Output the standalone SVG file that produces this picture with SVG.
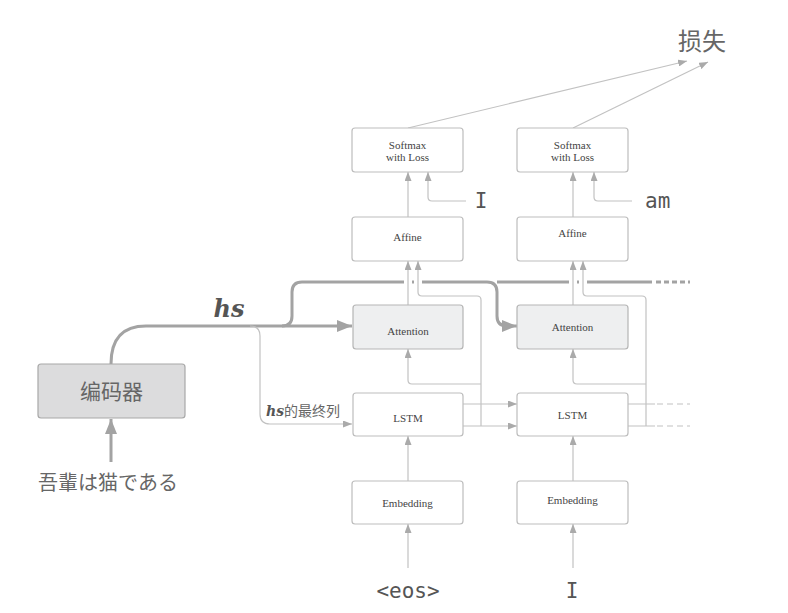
<svg xmlns="http://www.w3.org/2000/svg" width="788" height="613" viewBox="0 0 788 613">
<style>
.box{fill:#ffffff;stroke:#bdbdbd;stroke-width:1.2}
.att{fill:#eeeff0;stroke:#b5b5b5;stroke-width:1.2}
.enc{fill:#dcdcdd;stroke:#a8a8a8;stroke-width:1.2}
.lbl{font-family:"Liberation Serif","DejaVu Serif",serif;font-size:11px;fill:#444;text-anchor:middle}
.mono{font-family:"DejaVu Sans Mono","Liberation Mono",monospace;font-size:21px;fill:#555}
.cjk{font-family:"Noto Sans CJK SC","Noto Sans CJK JP",sans-serif;fill:#666}
.thin{fill:none;stroke:#c2c2c2;stroke-width:1.2}
.thick{fill:none;stroke:#a3a3a3;stroke-width:3}
.math{font-family:"DejaVu Serif","Liberation Serif",serif;font-style:italic;font-weight:bold;fill:#555}
</style>
<defs>
<marker id="aS" viewBox="0 0 9 7" refX="9" refY="3.5" markerWidth="9" markerHeight="7" markerUnits="userSpaceOnUse" orient="auto"><path d="M0,0 L9,3.5 L0,7 z" fill="#aaaaaa"/></marker>
<marker id="aL" viewBox="0 0 15 12" refX="15" refY="6" markerWidth="15" markerHeight="12" markerUnits="userSpaceOnUse" orient="auto"><path d="M0,0 L15,6 L0,12 z" fill="#a3a3a3"/></marker>
</defs>
<rect width="788" height="613" fill="#ffffff"/>

<g id="connectors">
  <path class="thick" d="M111,462 V419" marker-end="url(#aL)"/>
  <path class="thick" d="M111,364 C111,342 120,326 146,326 H352" marker-end="url(#aL)"/>
  <path class="thick" d="M282,326 Q292,326 292,316 V292 Q292,282 302,282 H404 M412,282 H414 M422,282 H487 Q497,282 497,292 V316 Q497,326 507,326 H517" marker-end="url(#aL)"/>
  <path class="thick" d="M497,282 H569 M577,282 H579 M587,282 H652"/>
  <path class="thick" d="M656,282 H690" stroke-dasharray="5,3"/>
  <path class="thin" d="M250,326 Q260,326 260,336 V414 Q260,424 270,424 H352" marker-end="url(#aS)"/>
  <path class="thin" d="M408,568 V524" marker-end="url(#aS)"/>
  <path class="thin" d="M408,481 V436" marker-end="url(#aS)"/>
  <path class="thin" d="M463,404 H517" marker-end="url(#aS)"/>
  <path class="thin" d="M463,426 H517" marker-end="url(#aS)"/>
  <path class="thin" d="M481,426 V300 Q481,296 477,296 H422 Q418,296 418,292 V261" marker-end="url(#aS)"/>
  <path class="thin" d="M481,384 H412 Q408,384 408,380 V349" marker-end="url(#aS)"/>
  <path class="thin" d="M408,305 V261" marker-end="url(#aS)"/>
  <path class="thin" d="M408,217 V172" marker-end="url(#aS)"/>
  <path class="thin" d="M466,201 H432 Q428,201 428,197 V172" marker-end="url(#aS)"/>
  <path class="thin" d="M408,128 L687,61" marker-end="url(#aS)"/>
  <path class="thin" d="M573,568 V524" marker-end="url(#aS)"/>
  <path class="thin" d="M573,481 V436" marker-end="url(#aS)"/>
  <path class="thin" d="M628,404 H655 M628,426 H655"/>
  <path class="thin" d="M657,404 H690 M657,426 H690" stroke-dasharray="6,4"/>
  <path class="thin" d="M646,426 V300 Q646,296 642,296 H587 Q583,296 583,292 V261" marker-end="url(#aS)"/>
  <path class="thin" d="M646,384 H577 Q573,384 573,380 V349" marker-end="url(#aS)"/>
  <path class="thin" d="M573,305 V261" marker-end="url(#aS)"/>
  <path class="thin" d="M573,217 V172" marker-end="url(#aS)"/>
  <path class="thin" d="M632,201 H598 Q594,201 594,197 V172" marker-end="url(#aS)"/>
  <path class="thin" d="M573,128 L708,62" marker-end="url(#aS)"/>
</g>

<g id="encoder">
  <rect class="enc" x="38" y="364" width="147" height="54" rx="3"/>
  <text class="cjk" x="111.5" y="399" font-size="21" text-anchor="middle">编码器</text>
</g>
<g id="input-jp"><text class="cjk" x="108" y="490" font-size="20" text-anchor="middle">吾輩は猫である</text></g>
<g id="loss"><text class="cjk" x="702" y="50" font-size="24" text-anchor="middle">损失</text></g>
<g id="hs-label"><text class="math" x="229" y="317" font-size="24" text-anchor="middle">hs</text></g>
<g id="hs-last-label"><text x="266" y="416"><tspan class="math" font-size="14">hs</tspan><tspan class="cjk" font-size="14" fill="#555">的最终列</tspan></text></g>

<g id="softmax1"><rect class="box" x="352" y="128" width="111" height="44" rx="3"/><text class="lbl" x="407.5" y="148.5">Softmax</text><text class="lbl" x="407.5" y="161">with Loss</text></g>
<g id="softmax2"><rect class="box" x="517" y="128" width="111" height="44" rx="3"/><text class="lbl" x="572.5" y="148.5">Softmax</text><text class="lbl" x="572.5" y="161">with Loss</text></g>
<g id="affine1"><rect class="box" x="352" y="217" width="111" height="44" rx="3"/><text class="lbl" x="407.5" y="240.5">Affine</text></g>
<g id="affine2"><rect class="box" x="517" y="217" width="111" height="44" rx="3"/><text class="lbl" x="572.5" y="237">Affine</text></g>
<g id="attention1"><rect class="att" x="353" y="305" width="110" height="44" rx="3"/><text class="lbl" x="408" y="334.5">Attention</text></g>
<g id="attention2"><rect class="att" x="517" y="305" width="111" height="44" rx="3"/><text class="lbl" x="572.5" y="330.5">Attention</text></g>
<g id="lstm1"><rect class="box" x="353" y="393" width="110" height="43" rx="3"/><text class="lbl" x="408" y="421.5">LSTM</text></g>
<g id="lstm2"><rect class="box" x="517" y="393" width="111" height="43" rx="3"/><text class="lbl" x="572.5" y="418.5">LSTM</text></g>
<g id="embedding1"><rect class="box" x="352" y="481" width="111" height="43" rx="3"/><text class="lbl" x="407.5" y="506.5">Embedding</text></g>
<g id="embedding2"><rect class="box" x="517" y="481" width="111" height="43" rx="3"/><text class="lbl" x="572.5" y="504">Embedding</text></g>

<g id="label-I-out"><text class="mono" x="481" y="208" text-anchor="middle">I</text></g>
<g id="label-am"><text class="mono" x="645" y="208">am</text></g>
<g id="label-eos"><text class="mono" x="408" y="598" text-anchor="middle">&lt;eos&gt;</text></g>
<g id="label-I-in"><text class="mono" x="572" y="598" text-anchor="middle">I</text></g>
</svg>
